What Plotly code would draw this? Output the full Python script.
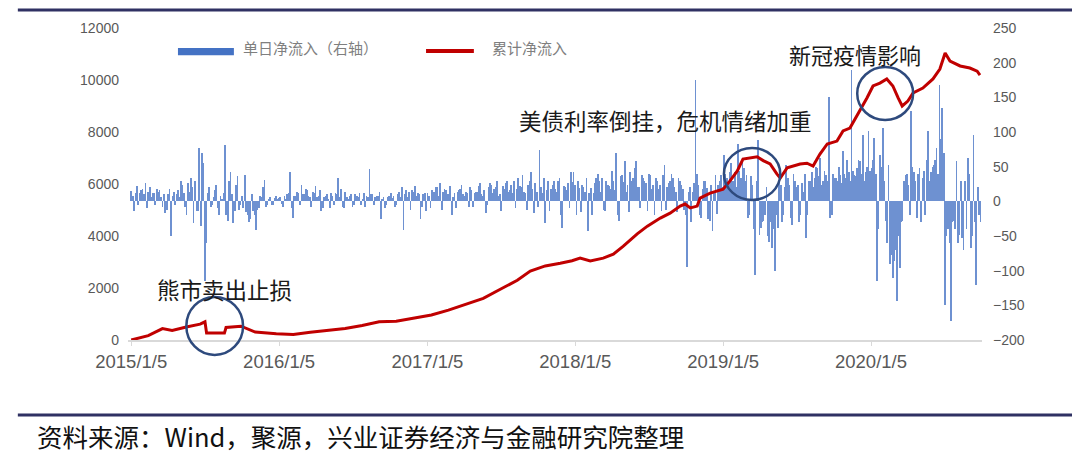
import pandas as pd
import plotly.graph_objects as go

# ---------------- data ----------------
tick_dates = ['2015-01-05', '2016-01-05', '2017-01-05', '2018-01-05', '2019-01-05', '2020-01-05']
tick_labels = ['2015/1/5', '2016/1/5', '2017/1/5', '2018/1/5', '2019/1/5', '2020/1/5']
left_ticks = [0, 2000, 4000, 6000, 8000, 10000, 12000]
right_ticks = [-200, -150, -100, -50, 0, 50, 100, 150, 200, 250]

cum_dates = ['2015-01-05', '2015-01-27', '2015-02-16', '2015-03-23', '2015-04-16', '2015-05-21',
             '2015-06-24', '2015-07-06', '2015-07-10', '2015-08-23', '2015-08-27', '2015-10-03',
             '2015-11-07', '2015-12-29', '2016-02-09', '2016-03-22', '2016-05-10', '2016-06-16',
             '2016-07-28', '2016-09-08', '2016-10-20', '2016-12-03', '2017-01-15', '2017-02-26',
             '2017-04-11', '2017-05-23', '2017-07-04', '2017-08-15', '2017-09-16', '2017-10-23',
             '2017-11-29', '2017-12-28', '2018-01-17', '2018-02-11', '2018-03-15', '2018-04-09',
             '2018-05-03', '2018-06-07', '2018-07-02', '2018-08-03', '2018-08-27', '2018-09-21',
             '2018-10-03', '2018-10-16', '2018-11-02', '2018-11-09', '2018-12-04', '2019-01-05',
             '2019-01-22', '2019-02-09', '2019-02-23', '2019-03-13', '2019-03-30', '2019-04-14',
             '2019-05-01', '2019-05-18', '2019-05-26', '2019-06-12', '2019-07-14', '2019-07-31',
             '2019-08-15', '2019-09-01', '2019-09-19', '2019-10-13', '2019-10-28', '2019-11-14',
             '2019-12-09', '2019-12-26', '2020-01-10', '2020-01-27', '2020-02-13', '2020-02-28',
             '2020-03-12', '2020-03-22', '2020-04-05', '2020-04-18', '2020-05-12', '2020-06-06',
             '2020-06-23', '2020-07-06', '2020-07-18', '2020-08-12', '2020-09-05', '2020-09-23',
             '2020-09-30']
cum_values = [0, 100, 170, 440, 370, 500, 610, 700, 265, 265,
              480, 530, 305, 240, 210, 300, 380, 440, 560, 700,
              720, 830, 960, 1150, 1380, 1600, 1950, 2300, 2650, 2850,
              2950, 3050, 3150, 3040, 3150, 3300, 3600, 4080, 4380, 4690,
              4880, 5150, 5230, 5080, 5150, 5460, 5650, 5800, 6120, 6500,
              6960, 7000, 7050, 6900, 6770, 6380, 6230, 6620, 6770, 6800,
              6690, 7150, 7540, 7650, 8040, 8150, 8810, 9310, 9770, 9880,
              10040, 9770, 9310, 9000, 9190, 9500, 9690, 10040, 10420, 11040,
              10730, 10540, 10460, 10340, 10190]

# readings of the daily net inflow bars (right axis), start-of-week samples
flow_2015 = [15, -14, 22, 12, 18, 26, 14, 6, 12, 18,
             17, -8, -17, 10, -50, 14, 10, 6, 24, -8,
             26, 34, -31, -14, 77, 70, -115, 12, -8, 6,
             24, -19, 4, 81, -29, 43, -31, 24, -12, 8,
             38, -20, -26, -14, -41, -10, 6, 31, -5, 6,
             -6, 8]
flow_2016 = [5, -4, 8, 10, 43, -24, 8, 12, 24, 10,
             17, 6, 14, 22, 8, -14, 6, 10, -10, 8,
             12, 34, 18, -10, 6, 8, -8, 10, 6, -6,
             12, 8, 46, 10, 6, 8, -26, 6, -6, 8,
             5, -8, 10, 6, -41, 17, 14, 17, 22, 12,
             -26, 10]
flow_2017 = [-14, 8, 17, 14, 20, 26, 14, 17, 10, -19,
             12, 14, 18, 10, 14, -8, 16, 12, 14, 26,
             8, -17, 20, 24, 18, 29, 10, 22, 26, 14,
             24, 29, 18, 22, 38, 12, 24, 43, -17, 14,
             74, 12, -31, 29, 18, 29, 14, 34, -38, 20,
             26, 43]
flow_2018 = [43, -19, 19, 24, 14, -43, 19, 12, 34, 29,
             34, -14, 24, 18, 29, 70, -29, 38, 58, 24,
             43, 34, 58, 20, 38, 29, -14, 38, 24, 34,
             18, -14, 53, 20, 29, 34, 14, 34, 24, -12,
             -95, 20, 14, 175, 24, -24, 29, 19, -29, -43,
             38, 24, 38]
flow_2019 = [67, 34, 43, 29, 43, 82, 34, 48, 38, -19,
             24, -106, 89, -38, -29, 20, -58, -67, -100, -38,
             24, -20, 53, 24, -34, 29, 24, -19, 14, -53,
             29, 43, 34, 48, 62, 29, 38, 150, -19, 34,
             29, 38, 72, 34, 43, 190, 38, 48, 58, 96,
             43, 101]
flow_2020 = [48, 91, -115, 67, 106, -29, 53, -77, -86, -144,
             -96, -29, 38, 24, 130, 43, -24, 48, 34, -20,
             101, 43, 53, 77, 168, 134, -149, -40, -173, -29,
             58, -48, -53, 30, 62, -67, 96, -120, -20]

# mid-week samples of the same bars
mid_2015 = [8, 12, -6, 16, 10, -10, 20, 12, -5, 14,
            6, 10, -12, 18, 8, -6, 16, 30, 12, -20,
            14, 20, 30, -14, -36, 55, -60, 20, -6, 16,
            -10, 8, 12, -20, 30, 10, -14, 36, -6, -10,
            -16, -30, 10, -20, -12, 8, 20, -8, 4, -6,
            5, 4]
mid_2016 = [6, -8, 4, 12, -10, 8, 14, -6, 10, 18,
            8, -8, 12, 6, 16, -10, 8, 4, 12, -6,
            10, 6, -8, 14, 4, 10, -6, 8, 12, 4,
            -8, 6, 10, -6, 8, 14, 4, -10, 6, 12,
            8, -6, 14, 20, 10, 6, -12, 14, 8, 10,
            -8, 12]
mid_2017 = [12, -10, 14, 20, 8, -12, 18, 10, 22, 6,
            -10, 16, 24, 8, 12, 20, -8, 14, 22, 10,
            16, -6, 26, 12, 20, 8, -14, 18, 30, 16,
            12, -10, 34, 20, 14, -12, 30, 18, 26, -8,
            20, 34, 16, -14, 24, 18, 30, -20, 22, 16,
            -10, 28]
mid_2018 = [24, 30, -16, 20, 34, 12, -20, 26, 40, 14,
            -12, 30, 22, 44, 16, -20, 36, 28, 14, -16,
            30, 48, 20, -10, 34, 26, 40, 18, -20, 30,
            24, 38, -12, 26, 40, 20, -16, 30, 18, -20,
            14, -30, 26, 40, -20, 18, 30, -26, 24, 14,
            -18, 30, 20]
mid_2019 = [40, 26, 56, 30, 20, 44, 60, 30, -24, 36,
            -40, 30, -48, -30, -20, -50, -30, -40, -20, 30,
            -30, 20, 34, -24, 40, 20, -30, 26, 40, -20,
            30, 20, 50, 36, 24, 44, 30, -24, 40, 34,
            50, 26, 40, 60, 30, 44, 36, 60, 40, 30,
            50, 44]
mid_2020 = [60, 40, -40, 50, 30, -60, -90, -110, -70, -50,
            -30, 30, 40, -20, 50, 30, 40, -30, 44, 60,
            30, 50, 60, 40, 90, 70, -50, -60, -30, -40,
            -60, 30, -70, -40, 40, -50, -30, 20, -30]

week_values = flow_2015 + flow_2016 + flow_2017 + flow_2018 + flow_2019 + flow_2020
mid_values = mid_2015 + mid_2016 + mid_2017 + mid_2018 + mid_2019 + mid_2020
week_dates = pd.date_range('2015-01-05', periods=len(week_values), freq='7D')
mid_dates = pd.date_range('2015-01-08 12:00', periods=len(mid_values), freq='7D')

flow_dates = list(week_dates) + list(mid_dates)
flow_values = week_values + mid_values

# ---------------- figure ----------------
GRAY = '#595959'
NAVY = '#2E4A7D'
CJK = 'Noto Sans CJK SC'
DAY = 86400000

fig = go.Figure()
fig.add_trace(go.Bar(
    x=flow_dates, y=flow_values, yaxis='y', name='单日净流入（右轴）',
    marker=dict(color='#4A76C6', line=dict(width=0)), width=1.8 * DAY, opacity=0.8,
))
fig.add_trace(go.Scatter(
    x=cum_dates, y=cum_values, yaxis='y2', mode='lines', name='累计净流入',
    line=dict(color='#C00000', width=3),
))

shapes = [
    # top & bottom rules
    dict(type='line', xref='paper', yref='paper', x0=-0.129, x1=1.109, y0=1.058, y1=1.058,
         line=dict(color='#2F3163', width=3)),
    dict(type='line', xref='paper', yref='paper', x0=-0.129, x1=1.109, y0=-0.240, y1=-0.240,
         line=dict(color='#2F3163', width=3)),
    # manual legend symbols
    dict(type='rect', xref='paper', yref='paper', x0=0.0585, x1=0.124, y0=0.913, y1=0.936,
         fillcolor='#4472C4', line=dict(width=0)),
    dict(type='line', xref='paper', yref='paper', x0=0.349, x1=0.405, y0=0.926, y1=0.926,
         line=dict(color='#C00000', width=4)),
    # highlight circles
    dict(type='circle', xref='x', yref='paper', x0='2015-05-21', x1='2015-10-08', y0=-0.048, y1=0.138,
         line=dict(color=NAVY, width=2.5)),
    dict(type='circle', xref='x', yref='paper', x0='2019-01-07', x1='2019-05-26', y0=0.449, y1=0.615,
         line=dict(color=NAVY, width=2.5)),
    dict(type='circle', xref='x', yref='paper', x0='2019-12-02', x1='2020-04-18', y0=0.705, y1=0.875,
         line=dict(color=NAVY, width=2.5)),
]

annotations = [
    dict(text='单日净流入（右轴）', xref='paper', yref='paper', x=0.132, y=0.936, xanchor='left',
         yanchor='middle', showarrow=False, font=dict(family=CJK, size=15, color='#7F7F7F')),
    dict(text='累计净流入', xref='paper', yref='paper', x=0.424, y=0.936, xanchor='left',
         yanchor='middle', showarrow=False, font=dict(family=CJK, size=15, color='#7F7F7F')),
    dict(text='熊市卖出止损', xref='x', yref='paper', x='2015-03-05', y=0.163, xanchor='left',
         yanchor='middle', showarrow=False, font=dict(family=CJK, size=22.5, color='#1A1A1A')),
    dict(text='美债利率倒挂，危机情绪加重', xref='x', yref='paper', x='2017-08-15', y=0.705,
         xanchor='left', yanchor='middle', showarrow=False,
         font=dict(family=CJK, size=22.5, color='#1A1A1A')),
    dict(text='新冠疫情影响', xref='x', yref='paper', x='2019-06-12', y=0.917, xanchor='left',
         yanchor='middle', showarrow=False, font=dict(family=CJK, size=22, color='#1A1A1A')),
    dict(text='资料来源：Wind，聚源，兴业证券经济与金融研究院整理', xref='paper', yref='paper',
         x=-0.109, y=-0.305, xanchor='left', yanchor='middle', showarrow=False,
         font=dict(family=CJK, size=25.5, color='#111111')),
]

tickfont = dict(family='Arial, Liberation Sans, sans-serif', size=14, color=GRAY)

# the page body adds an 8px margin, so the figure is 8px smaller each way
fig.update_layout(
    width=1072, height=446,
    margin=dict(l=120, r=98, t=20, b=114),
    paper_bgcolor='white', plot_bgcolor='white',
    showlegend=False, bargap=0,
    shapes=shapes, annotations=annotations,
    xaxis=dict(type='date', range=['2014-12-28', '2020-10-05'],
               tickvals=tick_dates, ticktext=tick_labels,
               showgrid=False, zeroline=False, showline=True, linecolor='#D9D9D9', linewidth=1.5,
               ticks='outside', ticklen=4, tickcolor='#D9D9D9',
               tickfont=dict(family='Arial, Liberation Sans, sans-serif', size=18.5, color=GRAY)),
    yaxis=dict(side='right', range=[-200, 250], tickvals=right_ticks,
               showgrid=False, zeroline=False, showline=False, ticks='',
               tickfont=tickfont, ticklabelstandoff=10),
    yaxis2=dict(side='left', overlaying='y', range=[0, 12000], tickvals=left_ticks,
                tickformat='d',
                showgrid=False, zeroline=False, showline=False, ticks='',
                tickfont=tickfont, ticklabelstandoff=8),
)

fig.write_html('out.html')
